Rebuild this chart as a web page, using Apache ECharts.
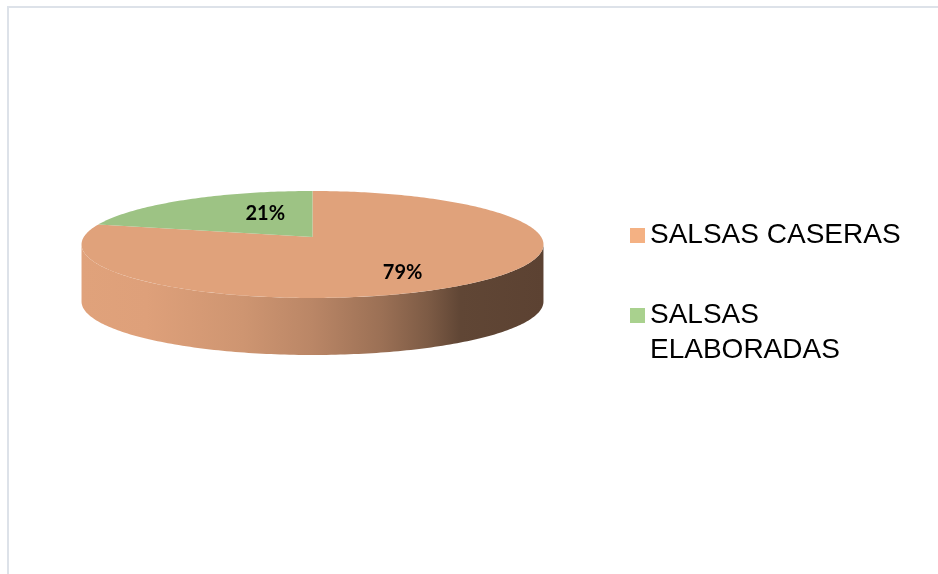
<!DOCTYPE html>
<html>
<head>
<meta charset="utf-8">
<script src="https://cdn.jsdelivr.net/npm/echarts@6/dist/echarts.min.js"></script>
<style>
  html, body { margin: 0; padding: 0; background: #ffffff; }
  #chart { width: 938px; height: 574px; }
</style>
</head>
<body>
<div id="chart"></div>
<script>
// Categories and their shares (%)
const categories = ['SALSAS CASERAS', 'SALSAS ELABORADAS'];
const values = [79, 21];

// Colours: lit top face of each slice, and the legend swatches
const topColors = ['#E0A27B', '#9DC384'];
const legendColors = ['#F4B183', '#A9D18E'];

// Disc geometry in pixels, with a slight perspective (P)
const CX = 312.5, CY = 237, A = 228.7, B = 52.45, P = 0.14, DEPTH = 57;
// Radial position of each percentage label, and its push away from the horizon
const LABEL_R = [0.6, 0.35];
const LABEL_LIFT = 9;

// Legend text settings
const LEGEND_FONT = '28px "Liberation Sans", Arial, sans-serif';
const LEGEND_MAX_WIDTH = 270;

const total = values.reduce((s, v) => s + v, 0);

// Project a point on the disc: phi clockwise from 12 o'clock, f = fraction of radius
function proj(phi, f, dz) {
  const s = Math.sin(phi), c = Math.cos(phi);
  const w = 1 + P * f * c;
  return [CX + A * f * s / w, CY - B * f * c / w + (dz || 0)];
}
function arc(a0, a1, dz) {
  const n = Math.max(2, Math.ceil(Math.abs(a1 - a0) / (Math.PI / 180)));
  const pts = [];
  for (let i = 0; i <= n; i++) pts.push(proj(a0 + (a1 - a0) * i / n, 1, dz));
  return pts;
}
// Silhouette angles: the wall is visible between them (through 6 o'clock)
const phiEdge = Math.acos(-P);
const xLeft = proj(2 * Math.PI - phiEdge, 1)[0];
const xRight = proj(phiEdge, 1)[0];

function scaleColor(hex, k) {
  const n = parseInt(hex.slice(1), 16);
  const r = Math.round(((n >> 16) & 255) * k);
  const g = Math.round(((n >> 8) & 255) * k);
  const b = Math.round((n & 255) * k);
  return 'rgb(' + r + ',' + g + ',' + b + ')';
}
// Wall shading: light on the left, deep shadow towards the right
const wallShade = [[0, 1], [0.14, 0.99], [0.35, 0.92], [0.5, 0.83], [0.65, 0.69], [0.75, 0.56], [0.82, 0.43], [1, 0.41]];
function wallFill(color) {
  return {
    type: 'linear', x: xLeft, y: 0, x2: xRight, y2: 0, global: true,
    colorStops: wallShade.map(s => ({ offset: s[0], color: scaleColor(color, s[1]) }))
  };
}

function renderSlice(params, api) {
  const i = params.seriesIndex;
  const v = api.value(0);
  let before = 0;
  for (let k = 0; k < i; k++) before += values[k];
  const a0 = before / total * 2 * Math.PI;
  const a1 = (before + v) / total * 2 * Math.PI;
  const children = [];

  const s0 = Math.max(a0, phiEdge), s1 = Math.min(a1, 2 * Math.PI - phiEdge);
  if (s1 > s0) {
    const wall = arc(s0, s1, 0).concat(arc(s1, s0, DEPTH));
    children.push({ type: 'polygon', shape: { points: wall }, style: { fill: wallFill(topColors[i]) } });
  }

  const top = [proj(0, 0)].concat(arc(a0, a1, 0));
  children.push({ type: 'polygon', shape: { points: top }, style: { fill: topColors[i] } });

  const mid = (a0 + a1) / 2;
  const lp = proj(mid, LABEL_R[i]);
  lp[1] += LABEL_LIFT * (Math.cos(mid) < 0 ? 1 : -1);
  children.push({
    type: 'text', z2: 10,
    style: {
      text: v + '%', x: lp[0], y: lp[1], align: 'center', verticalAlign: 'middle',
      fontFamily: 'Lato', fontWeight: 'bold', fontSize: 20, fill: '#000000'
    }
  });
  return { type: 'group', children: children };
}

// Wrap long legend names; the swatch stays level with the first line
const measureCtx = document.createElement('canvas').getContext('2d');
measureCtx.font = LEGEND_FONT;
function legendLabel(name) {
  if (measureCtx.measureText(name).width <= LEGEND_MAX_WIDTH) return name;
  const words = name.split(' ');
  const lines = [];
  let line = '';
  words.forEach(w => {
    const test = line ? line + ' ' + w : w;
    if (line && measureCtx.measureText(test).width > LEGEND_MAX_WIDTH) {
      lines.push(line);
      line = w;
    } else {
      line = test;
    }
  });
  lines.push(line);
  // pad above so the block's first line sits at the swatch's centre
  const pad = new Array(lines.length - 1).fill(' ');
  return pad.concat(lines).join('\n');
}

const chart = echarts.init(document.getElementById('chart'), null, { renderer: 'canvas' });

chart.setOption({
  backgroundColor: '#ffffff',
  animation: false,
  graphic: [
    { type: 'line', shape: { x1: 7, y1: 7, x2: 938, y2: 7 }, style: { stroke: '#dde2e9', lineWidth: 2 } },
    { type: 'line', shape: { x1: 8, y1: 6, x2: 8, y2: 574 }, style: { stroke: '#dde2e9', lineWidth: 2 } }
  ],
  legend: {
    orient: 'vertical',
    left: 630,
    top: 218,
    padding: 0,
    itemGap: 10,
    itemWidth: 15,
    itemHeight: 15,
    icon: 'rect',
    selectedMode: false,
    formatter: legendLabel,
    textStyle: {
      fontFamily: '"Liberation Sans", Arial, sans-serif',
      fontSize: 28,
      color: '#000000',
      lineHeight: 35
    },
    data: categories.map((name, i) => ({
      name: name,
      itemStyle: { color: legendColors[i] }
    }))
  },
  series: categories.map((name, i) => ({
    type: 'custom',
    name: name,
    coordinateSystem: 'none',
    itemStyle: { color: topColors[i] },
    renderItem: renderSlice,
    data: [values[i]]
  }))
});
</script>
</body>
</html>
